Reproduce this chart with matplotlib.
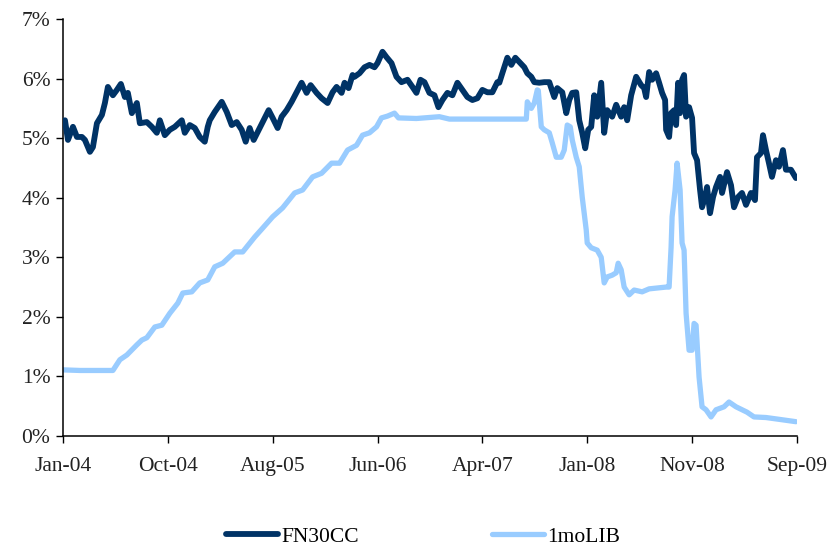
import numpy as np
import matplotlib
matplotlib.use("Agg")
import matplotlib.pyplot as plt
from matplotlib.ticker import FuncFormatter

plt.rcParams['font.family'] = ['Liberation Serif', 'DejaVu Serif']

# trading-day number since Jan-04, values in %
fn_day = [0, 4, 10, 20, 28, 38, 44, 54, 60, 68, 78, 84, 90, 100, 108, 116, 124, 130, 138, 148,
          154, 168, 178, 188, 194, 204, 214, 224, 238, 244, 254, 264, 274, 284, 290, 294, 304,
          318, 328, 338, 348, 358, 366, 374, 382, 394, 404, 412, 420, 430, 438, 448, 458, 468,
          478, 488, 496, 508, 518, 530, 540, 548, 558, 564, 572, 580, 584, 594, 604, 614, 624,
          630, 640, 648, 658, 668, 678, 690, 700, 708, 716, 724, 734, 744, 752, 760, 770, 780,
          790, 800, 810, 820, 830, 840, 850, 860, 870, 874, 880, 890, 898, 906, 914, 924, 930,
          938, 944, 954, 964, 974, 984, 990, 1000, 1008, 1014, 1020, 1028, 1034, 1040, 1046,
          1052, 1058, 1064, 1070, 1078, 1084, 1090, 1100, 1108, 1118, 1124, 1130, 1138, 1148,
          1158, 1164, 1168, 1174, 1180, 1188, 1194, 1200, 1206, 1208, 1214, 1218, 1224, 1228,
          1232, 1236, 1240, 1244, 1248, 1254, 1260, 1264, 1270, 1276, 1280, 1286, 1290, 1296,
          1302, 1308, 1316, 1320, 1330, 1338, 1344, 1352, 1360, 1368, 1378, 1386, 1390, 1398,
          1402, 1408, 1414, 1420, 1428, 1434, 1442, 1448, 1458, 1468]
fn30cc = [5.25, 5.30, 4.97, 5.19, 5.02, 5.02, 4.97, 4.77, 4.85, 5.25, 5.39, 5.59, 5.86, 5.72, 5.81,
          5.91, 5.69, 5.76, 5.42, 5.59, 5.25, 5.27, 5.19, 5.09, 5.30, 5.05, 5.14, 5.19, 5.30, 5.09,
          5.22, 5.17, 5.02, 4.94, 5.19, 5.30, 5.44, 5.61, 5.44, 5.22, 5.27, 5.14, 4.94, 5.17, 4.97,
          5.17, 5.34, 5.47, 5.34, 5.17, 5.36, 5.47, 5.61, 5.77, 5.93, 5.76, 5.89, 5.76, 5.67, 5.59,
          5.77, 5.86, 5.76, 5.93, 5.84, 6.06, 6.03, 6.09, 6.19, 6.23, 6.19, 6.26, 6.45, 6.36, 6.26,
          6.03, 5.94, 5.98, 5.86, 5.76, 5.98, 5.94, 5.76, 5.72, 5.52, 5.64, 5.76, 5.72, 5.93, 5.81,
          5.69, 5.64, 5.67, 5.81, 5.77, 5.77, 5.94, 5.93, 6.09, 6.35, 6.23, 6.35, 6.28, 6.19, 6.09,
          6.03, 5.94, 5.93, 5.94, 5.94, 5.69, 5.84, 5.77, 5.42, 5.64, 5.76, 5.77, 5.30, 5.09, 4.83,
          5.14, 5.19, 5.72, 5.36, 5.93, 5.09, 5.47, 5.36, 5.56, 5.36, 5.52, 5.30, 5.72, 6.03, 5.89,
          5.84, 5.69, 6.11, 5.98, 6.09, 5.93, 5.76, 5.64, 5.14, 5.02, 5.42, 5.47, 5.22, 5.93, 5.42,
          5.98, 6.06, 5.36, 5.52, 5.34, 4.75, 4.63, 4.13, 3.84, 4.01, 4.18, 3.74, 4.01, 4.18, 4.35,
          4.08, 4.43, 4.21, 3.84, 4.01, 4.08, 3.88, 4.08, 3.96, 4.68, 4.75, 5.05, 4.80, 4.58, 4.35,
          4.63, 4.52, 4.80, 4.47, 4.47, 4.33]

lib_day = [0, 34, 74, 100, 114, 128, 148, 158, 168, 184, 198, 214, 230, 240, 258, 274, 290, 304,
           320, 344, 360, 384, 400, 420, 440, 464, 480, 500, 518, 538, 554, 570, 588, 600, 614,
           628, 638, 650, 664, 672, 708, 754, 774, 874, 928, 930, 938, 944, 950, 952, 958, 964,
           974, 980, 988, 998, 1004, 1010, 1016, 1020, 1028, 1034, 1040, 1048, 1050, 1058, 1070,
           1078, 1084, 1090, 1100, 1108, 1112, 1118, 1124, 1134, 1144, 1160, 1174, 1208, 1214,
           1218, 1220, 1226, 1230, 1236, 1240, 1244, 1248, 1254, 1260, 1264, 1268, 1274, 1280,
           1288, 1298, 1308, 1324, 1334, 1348, 1370, 1384, 1408, 1434, 1468]
libor_1m = [1.11, 1.10, 1.10, 1.10, 1.28, 1.36, 1.53, 1.61, 1.65, 1.83, 1.86, 2.06, 2.23, 2.40,
            2.42, 2.57, 2.62, 2.84, 2.90, 3.09, 3.09, 3.34, 3.49, 3.68, 3.83, 4.08, 4.13, 4.35,
            4.41, 4.58, 4.58, 4.80, 4.88, 5.05, 5.09, 5.19, 5.34, 5.37, 5.42, 5.34, 5.33, 5.36,
            5.32, 5.32, 5.32, 5.61, 5.50, 5.59, 5.81, 5.80, 5.19, 5.14, 5.09, 4.92, 4.68, 4.68,
            4.80, 5.22, 5.19, 4.97, 4.68, 4.52, 4.01, 3.46, 3.24, 3.16, 3.12, 3.00, 2.57, 2.67,
            2.70, 2.74, 2.90, 2.79, 2.50, 2.37, 2.45, 2.42, 2.47, 2.50, 2.50, 3.17, 3.68, 4.13,
            4.58, 4.13, 3.24, 3.12, 2.06, 1.44, 1.44, 1.89, 1.86, 0.99, 0.49, 0.44, 0.32, 0.44,
            0.49, 0.57, 0.49, 0.40, 0.32, 0.31, 0.28, 0.24]

tick_labels = ['Jan-04', 'Oct-04', 'Aug-05', 'Jun-06', 'Apr-07', 'Jan-08', 'Nov-08', 'Sep-09']
TICK_STEP = 210

fig = plt.figure(figsize=(8.35, 5.48), dpi=100)
ax = fig.add_axes([0.0754, 0.2044, 0.879, 0.7609])

ax.plot(fn_day, fn30cc, color='#003366', lw=4.2, solid_joinstyle='round',
        solid_capstyle='round', label='FN30CC', zorder=3)
ax.plot(lib_day, libor_1m, color='#99CCFF', lw=3.8, solid_joinstyle='round',
        solid_capstyle='round', label='1moLIB', zorder=2)

ax.set_xlim(0, 1470)
ax.set_ylim(0, 7)
ax.set_yticks(np.arange(0, 8))
ax.yaxis.set_major_formatter(FuncFormatter(lambda v, p: f'{v:.0f}%'))
ax.set_xticks([i * TICK_STEP for i in range(len(tick_labels))])
ax.set_xticklabels(tick_labels)
ax.tick_params(direction='out', length=5, width=1, labelsize=15.5, colors='black',
               labelcolor='#222222')
ax.tick_params(axis='x', pad=10)
ax.tick_params(axis='y', pad=4)
for s in ['top', 'right']:
    ax.spines[s].set_visible(False)
for s in ['left', 'bottom']:
    ax.spines[s].set_linewidth(1.1)
ax.margins(0)

fig.legend(loc='center', bbox_to_anchor=(0.507, 0.021), ncol=2, frameon=False,
           fontsize=15.5, handlelength=2.4, handletextpad=0.15, columnspacing=6.2)

fig.savefig('out.png', dpi=100)
